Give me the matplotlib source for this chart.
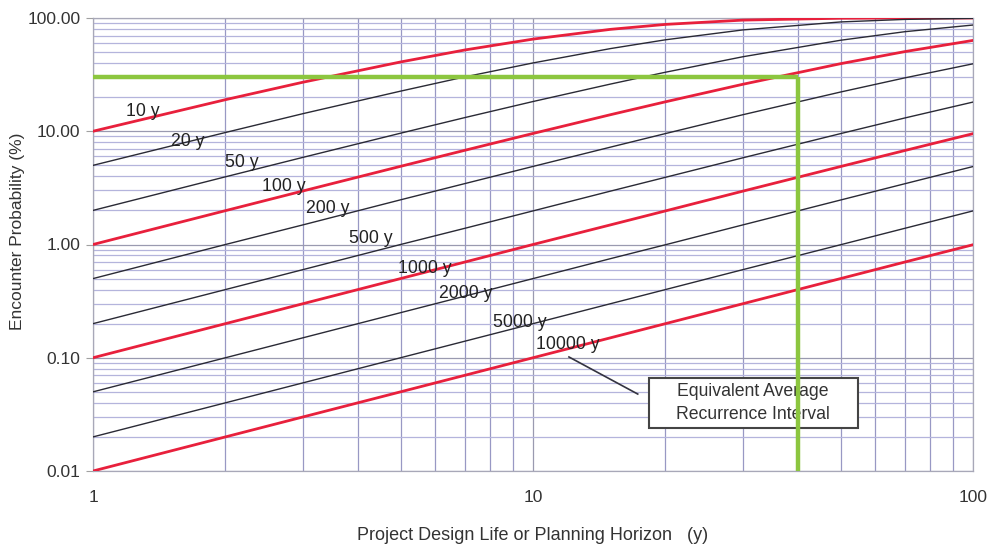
import matplotlib
matplotlib.use("Agg")
import matplotlib.pyplot as plt
from matplotlib.patches import Rectangle
from matplotlib.ticker import FixedLocator, NullFormatter, FixedFormatter

plt.rcParams['font.family'] = ['Liberation Sans', 'DejaVu Sans']

# Design life (years) at which values were read
years = [1, 2, 3, 5, 7, 10, 15, 20, 30, 50, 70, 100]

# Encounter probability (%)
p_10 = [10, 19, 27.1, 40.9, 52.2, 65.1, 79.4, 87.8, 95.8, 99.5, 99.94, 99.997]
p_20 = [5, 9.75, 14.3, 22.6, 30.2, 40.1, 53.7, 64.2, 78.5, 92.3, 97.2, 99.4]
p_50 = [2, 3.96, 5.88, 9.61, 13.2, 18.3, 26.1, 33.2, 45.5, 63.6, 75.7, 86.7]
p_100 = [1, 1.99, 2.97, 4.90, 6.79, 9.56, 14.0, 18.2, 26.0, 39.5, 50.5, 63.4]
p_200 = [0.5, 1.0, 1.49, 2.48, 3.45, 4.89, 7.24, 9.54, 14.0, 22.2, 29.6, 39.4]
p_500 = [0.2, 0.4, 0.6, 1.0, 1.39, 1.98, 2.96, 3.92, 5.83, 9.53, 13.1, 18.1]
p_1000 = [0.1, 0.2, 0.3, 0.5, 0.70, 1.0, 1.49, 1.98, 2.96, 4.88, 6.76, 9.52]
p_2000 = [0.05, 0.1, 0.15, 0.25, 0.35, 0.5, 0.75, 0.995, 1.49, 2.47, 3.44, 4.88]
p_5000 = [0.02, 0.04, 0.06, 0.1, 0.14, 0.2, 0.3, 0.4, 0.6, 0.995, 1.39, 1.98]
p_10000 = [0.01, 0.02, 0.03, 0.05, 0.07, 0.1, 0.15, 0.2, 0.3, 0.5, 0.70, 0.995]

curve_labels = ['10 y', '20 y', '50 y', '100 y', '200 y', '500 y',
                '1000 y', '2000 y', '5000 y', '10000 y']
curves = [p_10, p_20, p_50, p_100, p_200, p_500, p_1000, p_2000, p_5000, p_10000]
highlight = [True, False, False, True, False, False, True, False, False, True]

# Label anchor positions (x in years, y in %)
label_x = [1.30, 1.64, 2.18, 2.72, 3.42, 4.28, 5.68, 7.04, 9.34, 12.0]
label_y = [14.8, 8.2, 5.25, 3.22, 2.06, 1.12, 0.62, 0.373, 0.203, 0.130]

# Example reading (green guide lines)
example_life = 40
example_prob = 30

y_ticks = [0.01, 0.1, 1, 10, 100]
y_tick_labels = ['0.01', '0.10', '1.00', '10.00', '100.00']
x_ticks = [1, 10, 100]
x_tick_labels = ['1', '10', '100']

fig = plt.figure(figsize=(9.94, 5.45), dpi=100)
ax = fig.add_axes([93/994, 1-471/545, (973-93)/994, (471-18)/545])
ax.set_xscale('log')
ax.set_yscale('log')
ax.set_xlim(1, 100)
ax.set_ylim(0.01, 100)

# grid
minor_x = [m * d for d in (1, 10) for m in range(2, 10)]
minor_y = [m * d for d in (0.01, 0.1, 1, 10) for m in range(2, 10)]
ax.yaxis.set_major_locator(FixedLocator(y_ticks))
ax.yaxis.set_major_formatter(FixedFormatter(y_tick_labels))
ax.yaxis.set_minor_locator(FixedLocator(minor_y))
ax.yaxis.set_minor_formatter(NullFormatter())
ax.xaxis.set_major_locator(FixedLocator(x_ticks))
ax.xaxis.set_major_formatter(FixedFormatter(x_tick_labels))
ax.xaxis.set_minor_locator(FixedLocator(minor_x))
ax.xaxis.set_minor_formatter(NullFormatter())

ax.grid(which='major', axis='both', color='#9a9ab0', linewidth=0.9)
ax.grid(which='minor', axis='y', color='#b4b4dc', linewidth=0.9)
ax.grid(which='minor', axis='x', color='#9898c4', linewidth=0.9)
ax.set_axisbelow(True)

for s in ax.spines.values():
    s.set_color('#a8a8b8')
    s.set_linewidth(0.9)

ax.tick_params(axis='y', which='major', length=5, color='#a0a0a0',
               labelsize=12.5, labelcolor='#333333', pad=4)
ax.tick_params(axis='y', which='minor', length=0)
ax.tick_params(axis='x', which='both', length=0, labelsize=12.5,
               labelcolor='#333333', pad=14)

for vals, hl in zip(curves, highlight):
    if hl:
        ax.plot(years, vals, color='#e8203c', linewidth=2.0, zorder=3)
    else:
        ax.plot(years, vals, color='#2a2a35', linewidth=1.0, zorder=3)

for lab, lx, ly in zip(curve_labels, label_x, label_y):
    ax.text(lx, ly, lab, fontsize=12.7, color='#222222', ha='center',
            va='center', zorder=4)

# annotation: leader line + boxed note
ax.plot([12.07, 17.3], [0.1016, 0.0478], color='#333340', linewidth=1.2,
        zorder=6)
ax.add_patch(Rectangle((18.35, 0.0240), 54.8 - 18.35, 0.0662 - 0.0240,
                       facecolor='white', edgecolor='#444444', linewidth=1.5,
                       zorder=6))
ax.text(31.6, 0.0398, 'Equivalent Average\nRecurrence Interval', fontsize=12.7,
        color='#333333', ha='center', va='center', linespacing=1.45, zorder=7)

# green guides (drawn on top of the note box)
ax.plot([1, example_life], [example_prob, example_prob], color='#8cc63f',
        linewidth=3.2, zorder=8, solid_capstyle='butt')
ax.plot([example_life, example_life], [0.01, example_prob], color='#8cc63f',
        linewidth=3.2, zorder=8, solid_capstyle='butt')

ax.set_xlabel('Project Design Life or Planning Horizon   (y)', fontsize=13,
              color='#333333')
ax.xaxis.set_label_coords(0.5, -(535 - 471) / 453)
ax.xaxis.label.set_va('center')
ax.set_ylabel('Encounter Probability (%)', fontsize=12.5, color='#333333')
ax.yaxis.set_label_coords(-(93 - 18) / 880, (471 - 231) / 453)
ax.yaxis.label.set_va('center')

fig.savefig('out.png', dpi=100)
